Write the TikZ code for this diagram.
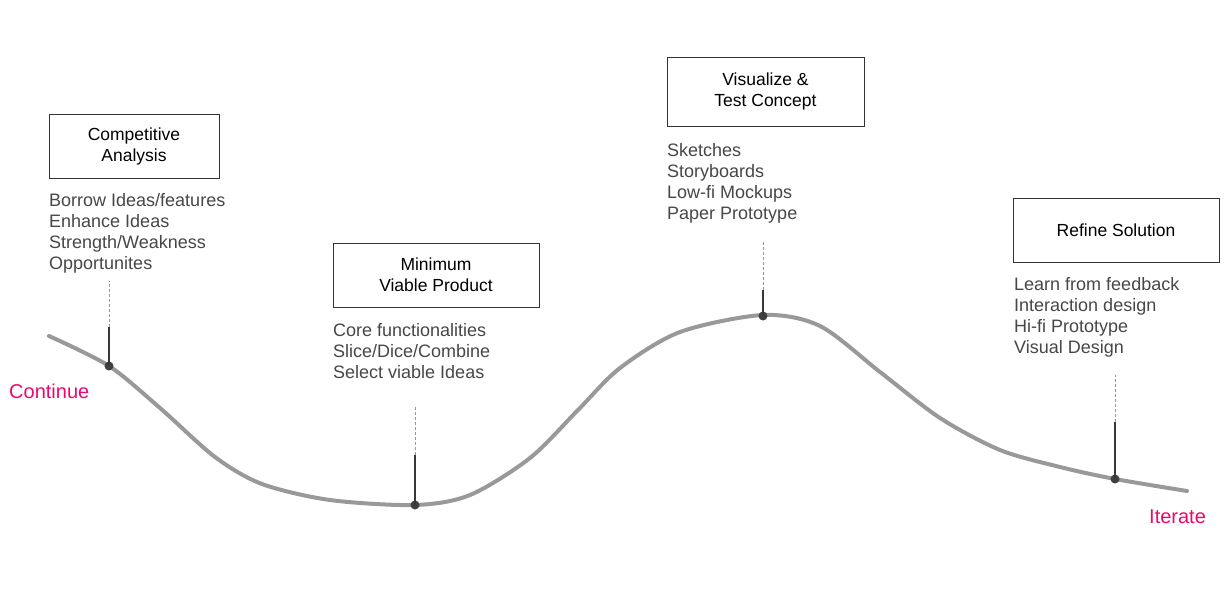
\documentclass[tikz,border=0pt]{standalone}
\usepackage{fontspec}
\setmainfont{Liberation Sans}
\begin{document}
\begin{tikzpicture}[x=1pt,y=-1pt,
  stagebox/.style={draw=black!80,line width=0.9pt,fill=white,inner sep=0pt,align=center,font=\fontsize{17.5}{21}\selectfont,text=black},
  listtext/.style={anchor=north west,inner sep=0pt,align=left,font=\fontsize{18}{21}\selectfont,text=black!72},
  curve/.style={draw=black!40,line width=4pt,line cap=round},
  stem/.style={draw=black!78,line width=1.6pt},
  dashstem/.style={draw=black!40,line width=1pt,dash pattern=on 3pt off 2pt},
  dotp/.style={circle,fill=black!75,inner sep=0pt,minimum size=9pt},
  endlabel/.style={text=magenta!70!red,font=\fontsize{20}{21}\selectfont,inner sep=0pt}
]
\useasboundingbox (0,0) rectangle (1231,610);
\fill[white] (0,0) rectangle (1231,610);

% curve
\draw[curve] plot[smooth,tension=0.5] coordinates {(49,336) (109,366) (160,408) (215,457) (262,484) (330,500) (415,505) (470,495) (530,458) (578,410) (620,368) (680,332) (763,315) (820,326) (880,372) (940,418) (1000,450) (1060,467) (1115,479) (1187,491)};

% stems
\node[dotp] (d1) at (109,366) {};
\node[dotp] (d2) at (415,505) {};
\node[dotp] (d3) at (763,316) {};
\node[dotp] (d4) at (1115,479) {};
\coordinate (s1) at (109,327); \coordinate (t1) at (109,281);
\coordinate (s2) at (415,455); \coordinate (t2) at (415,407);
\coordinate (s3) at (763,290); \coordinate (t3) at (763,242);
\coordinate (s4) at (1115,422); \coordinate (t4) at (1115,375);
\foreach \i in {1,2,3,4}{
  \draw[dashstem] (s\i) -- (t\i);
  \draw[stem] (d\i.center) -- (s\i);
}

% boxes
\node[stagebox,minimum width=170pt,minimum height=64pt] (b1) at (134,146) {Competitive\\Analysis};
\node[stagebox,minimum width=206pt,minimum height=64pt] (b2) at (436,275) {Minimum\\Viable Product};
\node[stagebox,minimum width=197pt,minimum height=69pt] (b3) at (765.5,91.5) {Visualize \&\\Test Concept};
\node[stagebox,minimum width=206pt,minimum height=64pt] (b4) at (1116,230) {Refine Solution};

% lists
\node[listtext] (l1) at (49,193) {Borrow Ideas/features\\Enhance Ideas\\Strength/Weakness\\Opportunites};
\node[listtext] (l2) at (333,323) {Core functionalities\\Slice/Dice/Combine\\Select viable Ideas};
\node[listtext] (l3) at (667,143) {Sketches\\Storyboards\\Low-fi Mockups\\Paper Prototype};
\node[listtext] (l4) at (1014,277) {Learn from feedback\\Interaction design\\Hi-fi Prototype\\Visual Design};

% end labels
\node[endlabel,anchor=west] (cont) at (9,391) {Continue};
\node[endlabel,anchor=west] (iter) at (1149,517) {Iterate};
\end{tikzpicture}
\end{document}
